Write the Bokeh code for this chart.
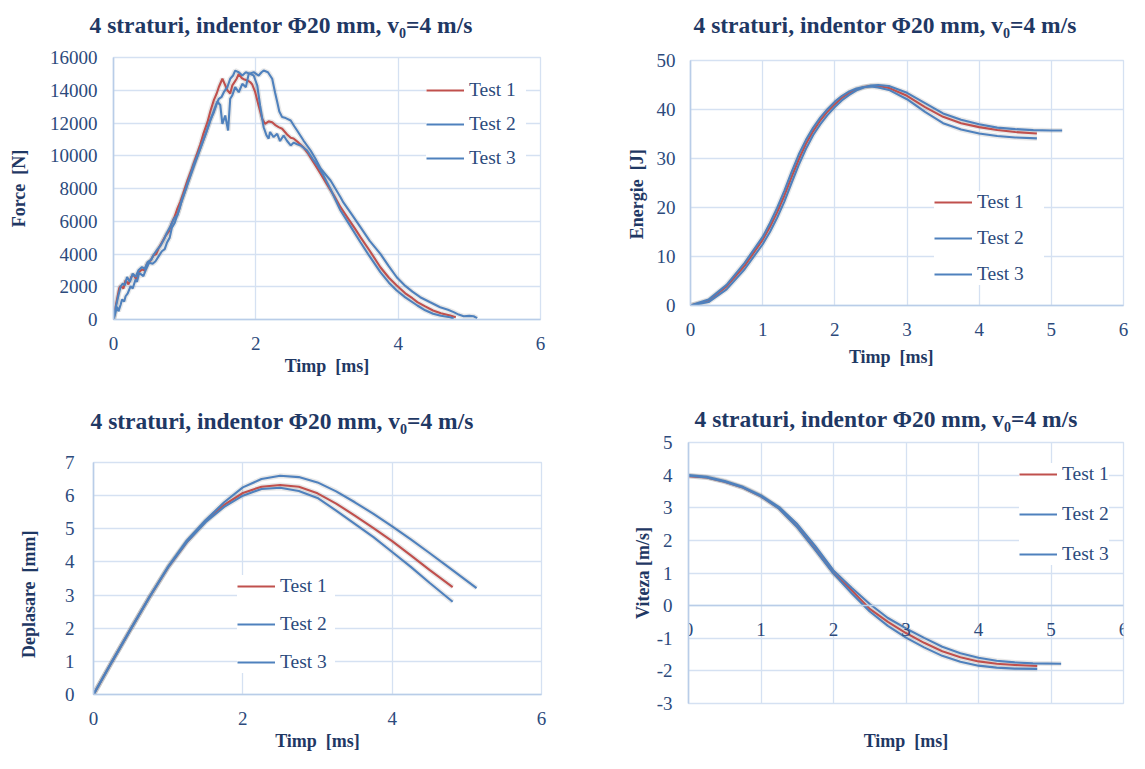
from bokeh.plotting import figure
from bokeh.models import Range1d, Legend, LegendItem, Title, FixedTicker, LinearAxis
from bokeh.layouts import row, column
from bokeh.embed import file_html
from bokeh.resources import INLINE

# ---------------- data ----------------
TITLE = "4 straturi, indentor \u03a620 mm,  v\u2080=4 m/s"
SERIES = ["Test 1", "Test 2", "Test 3"]
COLORS = ["#C0504D", "#4F81BD", "#4F81BD"]

# Force [N] vs time [ms]
force_t1 = [0, 0.03, 0.08, 0.1, 0.14, 0.17, 0.21, 0.25, 0.28, 0.32, 0.36, 0.4, 0.44, 0.47, 0.52, 0.56, 0.6,
            0.64, 0.68, 0.73, 0.78, 0.82, 0.86, 0.9, 0.94, 0.98, 1.04, 1.1, 1.14, 1.18, 1.22, 1.26, 1.32,
            1.36, 1.41, 1.45, 1.48, 1.53, 1.56, 1.6, 1.64, 1.67, 1.7, 1.73, 1.76, 1.8, 1.84, 1.88, 1.92,
            1.95, 1.99, 2.04, 2.09, 2.13, 2.18, 2.23, 2.28, 2.32, 2.37, 2.44, 2.49, 2.53, 2.6, 2.67, 2.74,
            2.81, 2.91, 3.0, 3.1, 3.19, 3.3, 3.4, 3.47, 3.6, 3.75, 3.87, 3.98, 4.1, 4.2, 4.27, 4.38, 4.49,
            4.6, 4.73, 4.81]
force_f1 = [0, 800, 1900, 2050, 1900, 2400, 2150, 2600, 2750, 2450, 2900, 3050, 3000, 3400, 3600, 3900, 4000,
            4400, 4700, 5100, 5400, 5900, 6300, 6800, 7200, 7700, 8500, 9200, 9700, 10200, 10700, 11300, 12050,
            12700, 13400, 13800, 14200, 14700, 14400, 14000, 13800, 14300, 14500, 14700, 15000, 14750, 14650,
            14600, 14500, 14350, 13900, 13050, 12250, 11950, 12100, 12050, 11850, 11750, 11650, 11300, 11100,
            11050, 10800, 10500, 10100, 9600, 8900, 8250, 7550, 6860, 6150, 5500, 5030, 4200, 3190, 2550, 2080,
            1600, 1300, 1060, 800, 550, 380, 240, 130]
force_t2 = [0, 0.05, 0.07, 0.1, 0.12, 0.15, 0.17, 0.2, 0.24, 0.27, 0.31, 0.33, 0.36, 0.42, 0.46, 0.5, 0.55,
            0.59, 0.64, 0.68, 0.72, 0.75, 0.79, 0.82, 0.86, 0.89, 0.93, 0.96, 1.02, 1.08, 1.13, 1.18, 1.24,
            1.3, 1.36, 1.41, 1.46, 1.5, 1.53, 1.57, 1.61, 1.64, 1.67, 1.71, 1.76, 1.81, 1.86, 1.9, 1.97, 2.04,
            2.08, 2.11, 2.17, 2.23, 2.27, 2.3, 2.33, 2.37, 2.42, 2.49, 2.54, 2.58, 2.67, 2.77, 2.84, 2.91,
            3.05, 3.19, 3.23, 3.35, 3.47, 3.6, 3.75, 3.87, 3.98, 4.1, 4.2, 4.31, 4.45, 4.59, 4.7, 4.78, 4.85,
            4.92, 5.0, 5.06, 5.11]
force_f2 = [0, 780, 500, 900, 1220, 1100, 1420, 1600, 2030, 1900, 2440, 2300, 2850, 2650, 3100, 3460, 3400,
            3560, 3900, 4170, 4300, 4680, 5000, 5600, 5900, 6300, 6800, 7300, 8000, 8800, 9500, 10000, 10700,
            11400, 12200, 12660, 13300, 13100, 11950, 12460, 11540, 13480, 13700, 14190, 13880, 14390, 14190,
            15000, 15100, 14900, 15100, 15200, 15100, 14700, 13860, 13300, 12700, 12360, 12300, 12150, 11800,
            11540, 10930, 10320, 9800, 9220, 8490, 7470, 7150, 6400, 5640, 4800, 4010, 3250, 2580, 2050, 1700,
            1360, 1050, 750, 600, 450, 300, 200, 220, 200, 80]
force_t3 = [0, 0.03, 0.07, 0.1, 0.13, 0.16, 0.19, 0.23, 0.27, 0.31, 0.35, 0.4, 0.44, 0.48, 0.53, 0.57, 0.62,
            0.66, 0.71, 0.75, 0.8, 0.85, 0.9, 0.94, 0.98, 1.04, 1.1, 1.15, 1.2, 1.25, 1.3, 1.35, 1.41, 1.45,
            1.48, 1.52, 1.55, 1.6, 1.64, 1.68, 1.71, 1.76, 1.81, 1.86, 1.92, 1.97, 2.02, 2.06, 2.11, 2.15,
            2.18, 2.2, 2.25, 2.3, 2.34, 2.39, 2.44, 2.49, 2.53, 2.58, 2.63, 2.72, 2.8, 2.86, 2.95, 3.05, 3.19,
            3.3, 3.47, 3.6, 3.75, 3.87, 3.98, 4.1, 4.27, 4.38, 4.49, 4.6, 4.73, 4.78]
force_f3 = [0, 700, 1500, 2000, 2200, 2100, 2600, 2300, 2800, 2600, 3000, 3200, 3100, 3500, 3650, 4000, 4300,
            4500, 4900, 5300, 5700, 6150, 6400, 7000, 7500, 8300, 9000, 9600, 10200, 10800, 11400, 12000,
            12760, 13200, 13480, 13600, 13880, 14190, 14700, 14900, 15200, 15100, 14900, 15100, 15000, 14900,
            14290, 13070, 11740, 11240, 11050, 11450, 11140, 11340, 10900, 11240, 10900, 10630, 10800, 10700,
            10630, 10320, 9800, 9450, 8800, 7950, 6660, 5900, 4720, 3850, 2890, 2250, 1770, 1350, 855, 560,
            350, 230, 140, 60]

# Energie [J] vs time [ms]
energy_t1 = [0, 0.25, 0.5, 0.75, 1.0, 1.1, 1.2, 1.3, 1.4, 1.5, 1.6, 1.7, 1.8, 1.9, 2.0, 2.1, 2.2, 2.3, 2.4,
             2.5, 2.6, 2.75, 3.0, 3.25, 3.5, 3.75, 4.0, 4.25, 4.5, 4.8]
energy_e1 = [0, 1.0, 3.9, 8.1, 13.4, 16.0, 19.0, 22.4, 26.2, 29.8, 33.0, 35.6, 37.8, 39.6, 41.1, 42.4, 43.4,
             44.1, 44.6, 44.8, 44.8, 44.4, 42.8, 40.5, 38.5, 37.2, 36.4, 35.8, 35.4, 35.1]
energy_t2 = [0, 0.25, 0.5, 0.75, 1.0, 1.1, 1.2, 1.3, 1.4, 1.5, 1.6, 1.7, 1.8, 1.9, 2.0, 2.1, 2.2, 2.3, 2.4,
             2.5, 2.6, 2.75, 3.0, 3.25, 3.5, 3.75, 4.0, 4.25, 4.5, 4.75, 5.0, 5.15]
energy_e2 = [0, 0.7, 3.3, 7.4, 12.5, 15.0, 17.9, 21.2, 25.0, 28.7, 32.0, 34.8, 37.0, 38.9, 40.5, 41.9, 43.0,
             43.9, 44.5, 44.9, 45.0, 44.8, 43.4, 41.3, 39.2, 37.9, 37.0, 36.3, 36.0, 35.8, 35.7, 35.7]
energy_t3 = [0, 0.25, 0.5, 0.75, 1.0, 1.1, 1.2, 1.3, 1.4, 1.5, 1.6, 1.7, 1.8, 1.9, 2.0, 2.1, 2.2, 2.3, 2.4,
             2.5, 2.6, 2.75, 3.0, 3.25, 3.5, 3.75, 4.0, 4.25, 4.5, 4.8]
energy_e3 = [0, 1.2, 4.2, 8.7, 14.0, 16.8, 19.9, 23.4, 27.2, 30.8, 33.8, 36.3, 38.4, 40.1, 41.6, 42.8, 43.7,
             44.3, 44.6, 44.7, 44.5, 44.0, 42.1, 39.5, 37.2, 35.9, 35.1, 34.6, 34.3, 34.1]

# Deplasare [mm] vs time [ms]
displ_t1 = [0, 0.25, 0.5, 0.75, 1.0, 1.25, 1.5, 1.75, 2.0, 2.25, 2.5, 2.75, 3.0, 3.25, 3.5, 3.75, 4.0, 4.25, 4.5, 4.81]
displ_d1 = [0, 1.0, 1.98, 2.94, 3.84, 4.6, 5.22, 5.72, 6.08, 6.27, 6.32, 6.27, 6.07, 5.76, 5.4, 5.02, 4.63, 4.2, 3.76, 3.24]
displ_t2 = [0, 0.25, 0.5, 0.75, 1.0, 1.25, 1.5, 1.75, 2.0, 2.25, 2.5, 2.75, 3.0, 3.25, 3.5, 3.75, 4.0, 4.25, 4.5, 4.75, 5.13]
displ_d2 = [0, 1.0, 1.98, 2.94, 3.86, 4.65, 5.26, 5.8, 6.25, 6.5, 6.6, 6.56, 6.4, 6.13, 5.8, 5.45, 5.07, 4.68, 4.27, 3.85, 3.21]
displ_t3 = [0, 0.25, 0.5, 0.75, 1.0, 1.25, 1.5, 1.75, 2.0, 2.25, 2.5, 2.75, 3.0, 3.25, 3.5, 3.75, 4.0, 4.25, 4.5, 4.81]
displ_d3 = [0, 1.0, 1.98, 2.94, 3.84, 4.6, 5.2, 5.66, 6.0, 6.2, 6.24, 6.14, 5.93, 5.55, 5.15, 4.75, 4.3, 3.85, 3.37, 2.8]

# Viteza [m/s] vs time [ms]
speed_t1 = [0, 0.25, 0.5, 0.75, 1.0, 1.25, 1.5, 1.75, 2.0, 2.25, 2.5, 2.75, 3.0, 3.25, 3.5, 3.75, 4.0, 4.25, 4.5, 4.81]
speed_v1 = [3.97, 3.93, 3.8, 3.62, 3.35, 2.98, 2.42, 1.72, 1.0, 0.47, -0.1, -0.5, -0.84, -1.14, -1.4, -1.58, -1.71, -1.78, -1.82, -1.85]
speed_t2 = [0, 0.25, 0.5, 0.75, 1.0, 1.25, 1.5, 1.75, 2.0, 2.25, 2.5, 2.75, 3.0, 3.25, 3.5, 3.75, 4.0, 4.25, 4.5, 4.75, 5.14]
speed_v2 = [4.0, 3.95, 3.82, 3.64, 3.38, 3.02, 2.5, 1.82, 1.08, 0.55, 0.05, -0.38, -0.7, -0.99, -1.26, -1.46, -1.6, -1.69, -1.74, -1.77, -1.78]
speed_t3 = [0, 0.25, 0.5, 0.75, 1.0, 1.25, 1.5, 1.75, 2.0, 2.25, 2.5, 2.75, 3.0, 3.25, 3.5, 3.75, 4.0, 4.25, 4.5, 4.81]
speed_v3 = [3.98, 3.93, 3.8, 3.62, 3.35, 2.97, 2.4, 1.7, 0.98, 0.38, -0.18, -0.62, -0.98, -1.28, -1.54, -1.72, -1.84, -1.9, -1.93, -1.94]

ticks_x_even = [0, 2, 4, 6]
ticks_x_all = [0, 1, 2, 3, 4, 5, 6]
ticks_force = [0, 2000, 4000, 6000, 8000, 10000, 12000, 14000, 16000]
ticks_energy = [0, 10, 20, 30, 40, 50]
ticks_displ = [0, 1, 2, 3, 4, 5, 6, 7]
ticks_speed = [-3, -2, -1, 0, 1, 2, 3, 4, 5]

# ---------------- styling ----------------
FONT = "Liberation Serif"
NAVY = "#1F3864"
TICK_COL = "#2C4A7C"
GRID = "#D5E1F2"
AXIS = "#B9CDE8"
NB = "\u00a0"


def make_fig(w, h, bl, br, bt, bb, xr, yr, xt, yt):
    p = figure(width=w, height=h, output_backend="svg", toolbar_location=None,
               x_range=Range1d(*xr), y_range=Range1d(*yr),
               min_border_left=bl, min_border_right=br, min_border_top=bt, min_border_bottom=bb)
    if "frame_align" in p.properties():
        p.frame_align = False
    p.background_fill_color = "white"
    p.border_fill_color = "white"
    p.outline_line_color = GRID
    p.outline_line_width = 1.3
    p.xaxis.ticker = FixedTicker(ticks=xt)
    p.yaxis.ticker = FixedTicker(ticks=yt)
    for ax in (p.xaxis, p.yaxis):
        ax.major_tick_out = 0
        ax.major_tick_in = 0
        ax.minor_tick_out = 0
        ax.minor_tick_in = 0
        ax.axis_line_color = AXIS
        ax.axis_line_width = 1.6
        ax.major_label_text_font = FONT
        ax.major_label_text_font_size = "19px"
        ax.major_label_text_color = TICK_COL
        ax.axis_label_text_font = FONT
        ax.axis_label_text_font_size = "18px"
        ax.axis_label_text_font_style = "bold"
        ax.axis_label_text_color = NAVY
    p.xaxis.major_label_standoff = 17
    p.xgrid.grid_line_color = GRID
    p.ygrid.grid_line_color = GRID
    p.xgrid.grid_line_width = 1.3
    p.ygrid.grid_line_width = 1.3
    return p


def set_y(p, label, tick_standoff, label_standoff):
    p.yaxis.major_label_standoff = tick_standoff
    p.yaxis.axis_label = label
    p.yaxis.axis_label_standoff = label_standoff


def set_x(p, label, label_standoff):
    p.xaxis.axis_label = label
    p.xaxis.axis_label_standoff = label_standoff


def add_title(p, offset, standoff, gap):
    # optional invisible spacer next to the frame, then the real title above it
    if gap is not None:
        p.add_layout(Title(text=" ", standoff=gap, text_font_size="1px"), "above")
    p.add_layout(Title(text=TITLE, align="left", offset=offset, standoff=standoff,
                       text_font=FONT, text_font_size="23.5px", text_font_style="bold",
                       text_color=NAVY), "above")


def add_series(p, xs, ys):
    rends = []
    for x, y in zip(xs, ys):
        p.line(x, y, line_color="#808080", line_alpha=0.18, line_width=5)
    for x, y, c in zip(xs, ys, COLORS):
        rends.append(p.line(x, y, line_color=c, line_width=2.1))
    return rends


def add_legend(p, rends, loc, spacing, padding, label_width):
    leg = Legend(items=[LegendItem(label=s, renderers=[r]) for s, r in zip(SERIES, rends)],
                 location=loc, orientation="vertical", spacing=spacing, padding=padding, margin=0,
                 glyph_width=38, glyph_height=20, label_height=20, label_width=label_width,
                 label_standoff=5, border_line_color=None, background_fill_color="white",
                 background_fill_alpha=1.0, label_text_font=FONT, label_text_font_size="19.5px",
                 label_text_color=TICK_COL)
    p.add_layout(leg)


TIMP = "Timp" + NB + " [ms]"

# ---- Force ----  frame: L113 R540 T57 B319 ; fig (0,0) 565x390
p1 = make_fig(565, 390, 113, 25, 57, 71, (0, 6), (0, 16000), ticks_x_even, ticks_force)
r1 = add_series(p1, [force_t1, force_t2, force_t3], [force_f1, force_f2, force_f3])
add_legend(p1, r1, (313, 150), 12, 8, 57)
add_title(p1, -24, 18, 8)
set_y(p1, "Force" + NB + " [N]", 16, 18)
set_x(p1, TIMP, 3)

# ---- Energie ---- frame: L690 R1123 T60 B305 ; fig (565,0) 564x390
p2 = make_fig(564, 390, 125, 6, 60, 85, (0, 6), (0, 50), ticks_x_all, ticks_energy)
r2 = add_series(p2, [energy_t1, energy_t2, energy_t3], [energy_e1, energy_e2, energy_e3])
add_legend(p2, r2, (244, 20), 14, 8, 67)
add_title(p2, 3, 18, 11)
set_y(p2, "Energie" + NB + " [J]" + NB * 5, 15, 7)
set_x(p2, TIMP + NB * 7, 8)

# ---- Deplasare ---- frame: L93 R541 T462 B697 ; fig (0,390) 565x363
p3 = make_fig(565, 363, 93, 24, 72, 56, (0, 6), (0, 7), ticks_x_even, ticks_displ)
r3 = add_series(p3, [displ_t1, displ_t2, displ_t3], [displ_d1, displ_d2, displ_d3])
add_legend(p3, r3, (144, 21), 16, 10, 55)
add_title(p3, -3, 30, 11)
set_y(p3, "Deplasare" + NB + " [mm]" + NB * 7, 19, 23)
set_x(p3, TIMP, 3)

# ---- Viteza ---- frame: L688 R1123 T442 B703 ; fig (565,390) 564x363
p4 = make_fig(564, 363, 123, 6, 52, 50, (0, 6), (-3, 5), ticks_x_all, ticks_speed)
p4.xaxis.fixed_location = 0
p4.yaxis.major_label_overrides = {-1: "-1", -2: "-2", -3: "-3"}
r4 = add_series(p4, [speed_t1, speed_t2, speed_t3], [speed_v1, speed_v2, speed_v3])
add_legend(p4, r4, (331, 138), 18, 11, 40)
add_title(p4, 6, 22, None)
set_y(p4, "Viteza [m/s]", 16, 1)
xlab = LinearAxis(ticker=FixedTicker(ticks=[]), axis_line_color=None, major_tick_out=0,
                  major_label_standoff=0, major_label_text_font_size="0px",
                  axis_label=TIMP, axis_label_standoff=27, axis_label_text_font=FONT,
                  axis_label_text_font_size="18px", axis_label_text_font_style="bold",
                  axis_label_text_color=NAVY)
p4.add_layout(xlab, "below")

layout = column(row(p1, p2), row(p3, p4))
open("out.html", "w").write(file_html(layout, INLINE))
